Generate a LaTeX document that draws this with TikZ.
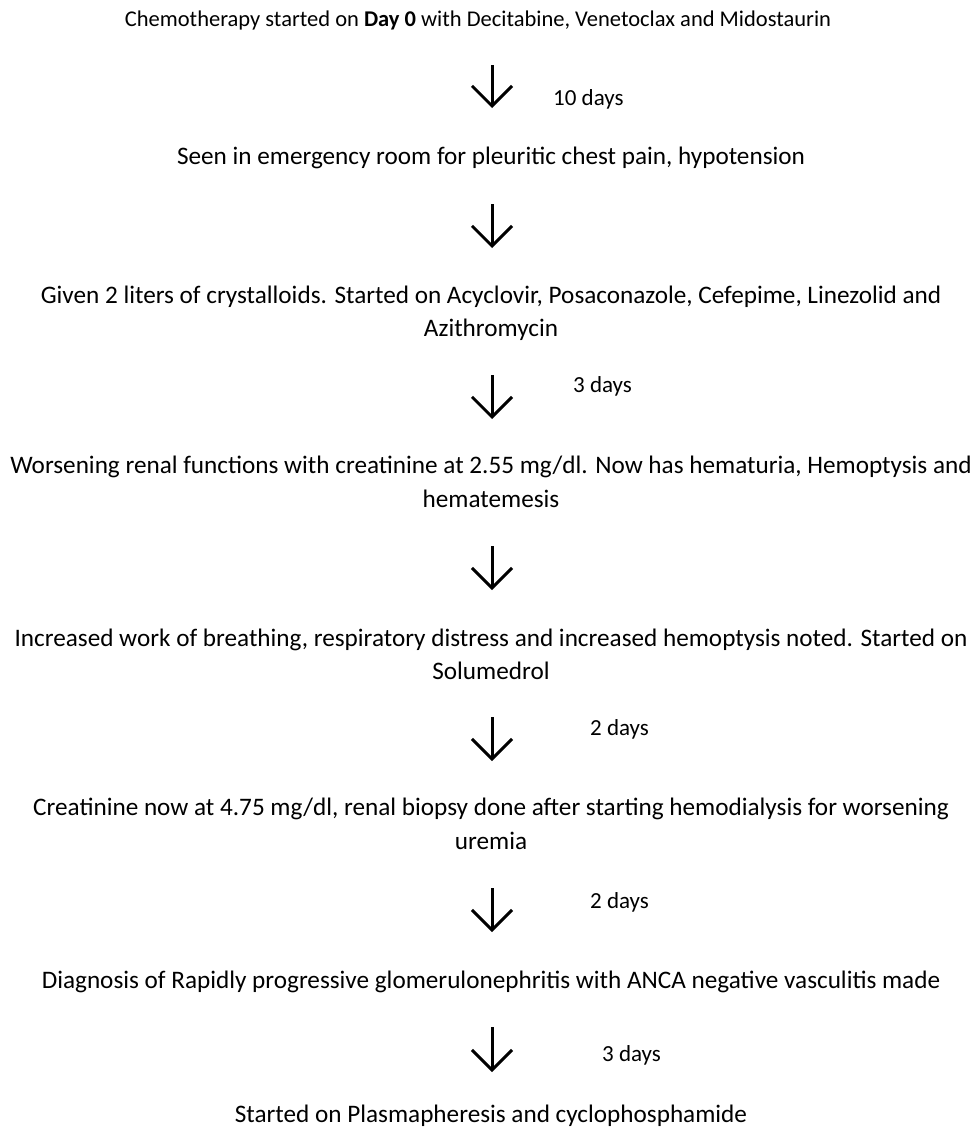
\documentclass[tikz,border=0pt]{standalone}
\usepackage{fontspec}
\setmainfont{Carlito}
\usetikzlibrary{arrows.meta}
\begin{document}
\begin{tikzpicture}[x=1pt,y=-1pt,
  txt/.style={anchor=base, inner sep=0pt, font=\fontsize{25.2}{34}\selectfont},
  toptxt/.style={anchor=base, inner sep=0pt, font=\fontsize{22.5}{30}\selectfont},
  lbl/.style={anchor=base west, inner sep=0pt, font=\fontsize{23}{30}\selectfont},
  arr/.style={line width=3pt, -{Straight Barb[length=20pt,width=40pt]}}]
\useasboundingbox[fill=white] (0,0) rectangle (974,1127);
% texts
\node[toptxt] (t1) at (478,27) {Chemotherapy started on \textbf{Day 0} with Decitabine, Venetoclax and Midostaurin};
\node[txt] (t2) at (491,164) {Seen in emergency room for pleuritic chest pain, hypotension};
\node[txt] (t3) at (491,303.5) {Given 2 liters of crystalloids. Started on Acyclovir, Posaconazole, Cefepime, Linezolid and};
\node[txt] (t3b) at (491,336) {Azithromycin};
\node[txt] (t4) at (491,473) {Worsening renal functions with creatinine at 2.55 mg/dl. Now has hematuria, Hemoptysis and};
\node[txt] (t4b) at (491,507) {hematemesis};
\node[txt] (t5) at (491,646) {Increased work of breathing, respiratory distress and increased hemoptysis noted. Started on};
\node[txt] (t5b) at (491,679) {Solumedrol};
\node[txt] (t6) at (491,815) {Creatinine now at 4.75 mg/dl, renal biopsy done after starting hemodialysis for worsening};
\node[txt] (t6b) at (491,849) {uremia};
\node[txt] (t7) at (491,988) {Diagnosis of Rapidly progressive glomerulonephritis with ANCA negative vasculitis made};
\node[txt] (t8) at (491,1122) {Started on Plasmapheresis and cyclophosphamide};
% arrow ends
\coordinate (a1s) at (492,65);   \coordinate (a1e) at (492,108);
\coordinate (a2s) at (492,204);  \coordinate (a2e) at (492,248);
\coordinate (a3s) at (492,375);  \coordinate (a3e) at (492,419);
\coordinate (a4s) at (492,546);  \coordinate (a4e) at (492,590);
\coordinate (a5s) at (492,717);  \coordinate (a5e) at (492,761);
\coordinate (a6s) at (492,888);  \coordinate (a6e) at (492,932);
\coordinate (a7s) at (492,1027); \coordinate (a7e) at (492,1072);
\draw[arr] (a1s) -- (a1e);
\draw[arr] (a2s) -- (a2e);
\draw[arr] (a3s) -- (a3e);
\draw[arr] (a4s) -- (a4e);
\draw[arr] (a5s) -- (a5e);
\draw[arr] (a6s) -- (a6e);
\draw[arr] (a7s) -- (a7e);
% labels
\node[lbl] (l1) at (553,105) {10 days};
\node[lbl] (l3) at (573,392) {3 days};
\node[lbl] (l5) at (590,735.5) {2 days};
\node[lbl] (l6) at (590,908) {2 days};
\node[lbl] (l7) at (602,1061) {3 days};
\end{tikzpicture}
\end{document}
